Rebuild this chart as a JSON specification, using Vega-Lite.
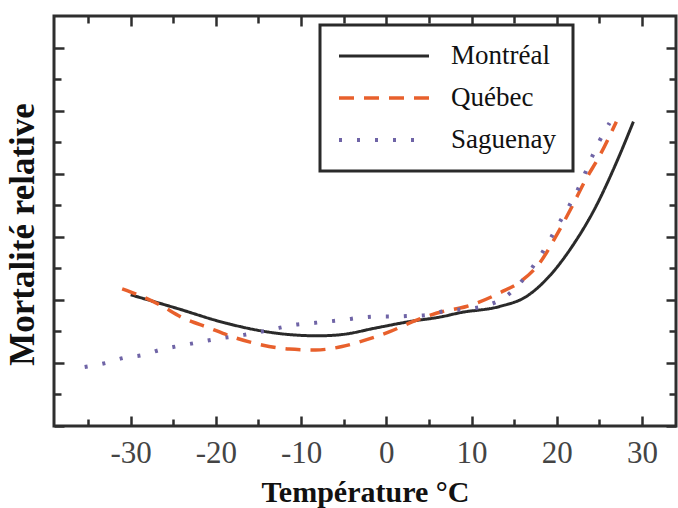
{
  "$schema": "https://vega.github.io/schema/vega-lite/v6.json",
  "width": 622,
  "height": 410,
  "autosize": {"type": "none"},
  "padding": {"left": 54, "top": 16, "right": 2, "bottom": 82},
  "background": "white",
  "config": {
    "view": {"stroke": "#2e2e2e", "strokeWidth": 3},
    "axis": {"domain": false, "grid": false, "tickColor": "#2e2e2e", "tickWidth": 2.5, "labelFont": "Liberation Serif", "titleFont": "Liberation Serif"},
    "legend": {"labelFont": "Liberation Serif"}
  },
  "data": {"values": [
    {"city": "Montréal", "t": -30.0, "y": 1.016},
    {"city": "Montréal", "t": -24.7, "y": 0.974},
    {"city": "Montréal", "t": -18.8, "y": 0.926},
    {"city": "Montréal", "t": -14.1, "y": 0.899},
    {"city": "Montréal", "t": -11.0, "y": 0.889},
    {"city": "Montréal", "t": -8.0, "y": 0.886},
    {"city": "Montréal", "t": -5.2, "y": 0.890},
    {"city": "Montréal", "t": -1.2, "y": 0.911},
    {"city": "Montréal", "t": 2.7, "y": 0.931},
    {"city": "Montréal", "t": 6.6, "y": 0.947},
    {"city": "Montréal", "t": 8.6, "y": 0.959},
    {"city": "Montréal", "t": 13.3, "y": 0.979},
    {"city": "Montréal", "t": 16.4, "y": 1.010},
    {"city": "Montréal", "t": 19.1, "y": 1.074},
    {"city": "Montréal", "t": 21.8, "y": 1.169},
    {"city": "Montréal", "t": 24.6, "y": 1.296},
    {"city": "Montréal", "t": 27.0, "y": 1.435},
    {"city": "Montréal", "t": 29.0, "y": 1.565},
    {"city": "Québec", "t": -31.0, "y": 1.035},
    {"city": "Québec", "t": -28.6, "y": 1.010},
    {"city": "Québec", "t": -26.6, "y": 0.984},
    {"city": "Québec", "t": -23.9, "y": 0.943},
    {"city": "Québec", "t": -20.8, "y": 0.911},
    {"city": "Québec", "t": -18.1, "y": 0.883},
    {"city": "Québec", "t": -14.6, "y": 0.857},
    {"city": "Québec", "t": -11.4, "y": 0.844},
    {"city": "Québec", "t": -8.3, "y": 0.841},
    {"city": "Québec", "t": -5.2, "y": 0.852},
    {"city": "Québec", "t": -2.4, "y": 0.873},
    {"city": "Québec", "t": 0.4, "y": 0.899},
    {"city": "Québec", "t": 3.1, "y": 0.931},
    {"city": "Québec", "t": 6.6, "y": 0.963},
    {"city": "Québec", "t": 9.4, "y": 0.979},
    {"city": "Québec", "t": 13.3, "y": 1.022},
    {"city": "Québec", "t": 16.0, "y": 1.063},
    {"city": "Québec", "t": 18.0, "y": 1.117},
    {"city": "Québec", "t": 19.9, "y": 1.201},
    {"city": "Québec", "t": 21.8, "y": 1.296},
    {"city": "Québec", "t": 23.4, "y": 1.381},
    {"city": "Québec", "t": 25.0, "y": 1.455},
    {"city": "Québec", "t": 27.0, "y": 1.565},
    {"city": "Saguenay", "t": -35.4, "y": 0.787},
    {"city": "Saguenay", "t": -32.9, "y": 0.800},
    {"city": "Saguenay", "t": -30.8, "y": 0.816},
    {"city": "Saguenay", "t": -28.6, "y": 0.825},
    {"city": "Saguenay", "t": -26.6, "y": 0.841},
    {"city": "Saguenay", "t": -24.7, "y": 0.852},
    {"city": "Saguenay", "t": -22.5, "y": 0.863},
    {"city": "Saguenay", "t": -20.6, "y": 0.873},
    {"city": "Saguenay", "t": -16.7, "y": 0.889},
    {"city": "Saguenay", "t": -14.7, "y": 0.899},
    {"city": "Saguenay", "t": -12.6, "y": 0.911},
    {"city": "Saguenay", "t": -10.8, "y": 0.921},
    {"city": "Saguenay", "t": -8.8, "y": 0.926},
    {"city": "Saguenay", "t": -6.9, "y": 0.931},
    {"city": "Saguenay", "t": -4.9, "y": 0.937},
    {"city": "Saguenay", "t": -3.2, "y": 0.943},
    {"city": "Saguenay", "t": -1.2, "y": 0.947},
    {"city": "Saguenay", "t": 0.7, "y": 0.947},
    {"city": "Saguenay", "t": 2.7, "y": 0.949},
    {"city": "Saguenay", "t": 4.7, "y": 0.952},
    {"city": "Saguenay", "t": 6.6, "y": 0.963},
    {"city": "Saguenay", "t": 11.3, "y": 0.979},
    {"city": "Saguenay", "t": 14.0, "y": 1.010},
    {"city": "Saguenay", "t": 18.0, "y": 1.137},
    {"city": "Saguenay", "t": 20.3, "y": 1.244},
    {"city": "Saguenay", "t": 22.3, "y": 1.340},
    {"city": "Saguenay", "t": 25.0, "y": 1.503},
    {"city": "Saguenay", "t": 26.2, "y": 1.561}
  ]},
  "resolve": {"axis": {"x": "independent", "y": "independent"}},
  "layer": [
    {
      "mark": {"type": "line", "interpolate": "monotone", "opacity": 0},
      "encoding": {
        "x": {"field": "t", "type": "quantitative", "scale": {"domain": [-39, 34], "nice": false, "zero": false},
          "axis": {"orient": "top", "labels": false, "title": null, "values": [-35,-30,-25,-20,-15,-10,-5,0,5,10,15,20,25,30],
            "tickSize": {"condition": {"test": "datum.value % 10 === 0", "value": -10}, "value": -7}}},
        "y": {"field": "y", "type": "quantitative", "scale": {"domain": [0.6, 1.9], "nice": false, "zero": false},
          "axis": {"orient": "right", "labels": false, "title": null, "values": [0.6,0.7,0.8,0.9,1.0,1.1,1.2,1.3,1.4,1.5,1.6,1.7,1.8],
            "tickSize": {"condition": {"test": "round(datum.value*10) % 2 === 0", "value": -10}, "value": -7}}},
        "detail": {"field": "city"}
      }
    },
    {
      "mark": {"type": "line", "interpolate": "monotone"},
      "encoding": {
        "x": {"field": "t", "type": "quantitative",
          "axis": {"orient": "bottom", "title": "Température °C", "values": [-35,-30,-25,-20,-15,-10,-5,0,5,10,15,20,25,30],
            "tickSize": {"condition": {"test": "datum.value % 10 === 0", "value": -10}, "value": -7},
            "labelExpr": "datum.value % 10 === 0 ? toString(datum.value) : ''",
            "labelFont": "Liberation Serif", "labelFontSize": 31, "labelColor": "#444", "labelPadding": 22,
            "titleFont": "Liberation Serif", "titleFontSize": 30, "titleFontWeight": "bold", "titleColor": "#111",
            "titleY": 75, "titleBaseline": "alphabetic"}},
        "y": {"field": "y", "type": "quantitative",
          "axis": {"orient": "left", "title": "Mortalité relative", "labels": false, "values": [0.6,0.7,0.8,0.9,1.0,1.1,1.2,1.3,1.4,1.5,1.6,1.7,1.8],
            "tickSize": {"condition": {"test": "round(datum.value*10) % 2 === 0", "value": -10}, "value": -7},
            "titleFont": "Liberation Serif", "titleFontSize": 35, "titleFontWeight": "bold", "titleColor": "#111",
            "titleX": -21, "titleY": 218, "titleAngle": -90, "titleBaseline": "alphabetic", "titleAlign": "center"}},
        "color": {"field": "city", "type": "nominal",
          "scale": {"domain": ["Montréal", "Québec", "Saguenay"], "range": ["#2a2a2a", "#e8602c", "#6f64a6"]},
          "legend": {"title": null, "orient": "none", "legendX": 266, "legendY": 9, "symbolType": "stroke", "symbolSize": 8100,
            "clipHeight": 28, "rowPadding": 14, "labelFont": "Liberation Serif", "labelFontSize": 27, "labelColor": "#111",
            "labelOffset": 20, "padding": 17, "fillColor": "white", "strokeColor": "#2a2a2a",
            "encode": {"legend": {"update": {"strokeWidth": {"value": 3}}}}}},
        "strokeDash": {"field": "city", "type": "nominal",
          "scale": {"domain": ["Montréal", "Québec", "Saguenay"], "range": [[1, 0], [15, 10], [3, 15]]}},
        "strokeWidth": {"field": "city", "type": "nominal",
          "scale": {"domain": ["Montréal", "Québec", "Saguenay"], "range": [3, 4, 3]}}
      }
    }
  ]
}
